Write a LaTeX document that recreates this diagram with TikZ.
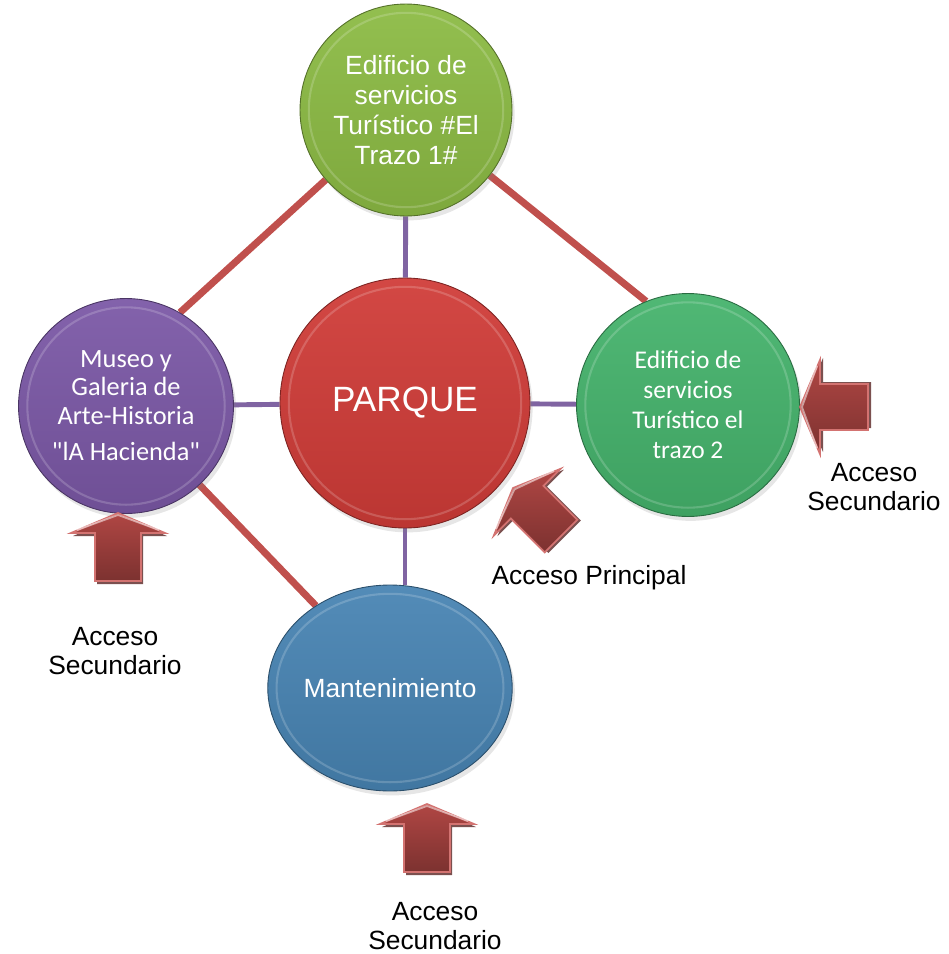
\documentclass[tikz,border=0pt]{standalone}
\usepackage{fontspec}
\setmainfont{Liberation Sans}
\newfontfamily\calibri{Carlito}
\usetikzlibrary{shapes.geometric,shadows,backgrounds,calc}

\definecolor{verdeolivo}{HTML}{8CBB44}
\definecolor{rojoparque}{HTML}{D03C38}
\definecolor{morado}{HTML}{7B58A6}
\definecolor{verdemar}{HTML}{45B36C}
\definecolor{azulmant}{HTML}{4884B3}
\definecolor{lineared}{HTML}{C0504D}
\definecolor{lineamor}{HTML}{8064A2}
\definecolor{flecha}{HTML}{C8504D}

\tikzset{
  bubble/.style={inner sep=0pt, text=white, align=center,
    draw=#1!60!black, line width=0.5pt,
    top color=#1!94!white, bottom color=#1!90!black,
    drop shadow={shadow xshift=1.5pt, shadow yshift=-2.5pt, opacity=.2},
    path picture={\draw[white, opacity=.18, line width=1.2pt]
      let \p1=($(path picture bounding box.north east)-(path picture bounding box.center)$)
      in (path picture bounding box.center) ellipse ({\x1-5pt} and {\y1-5pt});}},
  arial/.style={font=\fontsize{15}{17}\selectfont},
  calib/.style={font=\calibri\fontsize{15}{16}\selectfont},
  redline/.style={lineared, line width=4pt},
  purpleline/.style={lineamor, line width=2.8pt},
  accarrow/.pic={
    \fill[flecha!45!black, opacity=.8] (2,3) -- (49,23) -- (25,23) -- (25,71) -- (-21,71) -- (-21,23) -- (-45,23) -- cycle;
    \draw[flecha!80!white, line width=1pt, top color=flecha!88!black, middle color=flecha, bottom color=flecha!62!black]
      (0,0) -- (47,20) -- (23,20) -- (23,68) -- (-23,68) -- (-23,20) -- (-47,20) -- cycle;
    \draw[white, opacity=.5, line width=1pt] (-41,17) -- (0,2) -- (41,17);
  }
}

\begin{document}
\begin{tikzpicture}[x=0.02cm, y=-0.02cm]
  \useasboundingbox (0,0) rectangle (948,954);

  % circles
  \node (parque) [bubble=rojoparque, circle, minimum size=5.0cm, font=\fontsize{20}{22}\selectfont] at (405,403) {PARQUE};
  \node (trazo1) [bubble=verdeolivo, circle, minimum size=4.24cm, arial] at (406,110)
    {Edificio de\\ servicios\\ Turístico \#El\\ Trazo 1\#};
  \node (museo) [bubble=morado, circle, minimum size=4.3cm, calib] at (126,406)
    {Museo y\\ Galeria de\\ Arte-Historia\\[5pt] "lA Hacienda"};
  \node (trazo2) [bubble=verdemar, circle, minimum size=4.46cm, font=\calibri\fontsize{14.5}{17}\selectfont] at (688,405)
    {Edificio de\\ servicios\\ Turístico el\\ trazo 2};
  \node (mant) [bubble=azulmant, ellipse, minimum width=4.55cm, minimum height=4.12cm, arial] at (390,688)
    {Mantenimiento};

  % connectors
  \begin{scope}[on background layer]
    \draw [purpleline] (parque) -- (trazo1);
    \draw [purpleline] (parque) -- (museo);
    \draw [purpleline] (parque) -- (trazo2);
    \draw [purpleline] (parque.south) -- (mant.north -| parque.south);
    \draw [redline] (trazo1.221) -- (museo.60);
    \draw [redline] (trazo1.-38) -- (trazo2.112);
    \draw [redline] (museo.-47) -- (mant.132);
  \end{scope}

  % accesos
  \pic (flprin) [rotate=45] at (513,488) {accarrow};
  \pic (flder) [rotate=90] at (800,407) {accarrow};
  \pic (flizq) at (118,513) {accarrow};
  \pic (flabajo) at (427,804) {accarrow};

  \node (accprin) [arial] at (589,578) {Acceso Principal};
  \node (accder) [arial, align=center] at (874,487) {Acceso\\ Secundario};
  \node (accizq) [arial, align=center] at (115,651) {Acceso\\ Secundario};
  \node (accabajo) [arial, align=center] at (435,926) {Acceso\\ Secundario};
\end{tikzpicture}
\end{document}
